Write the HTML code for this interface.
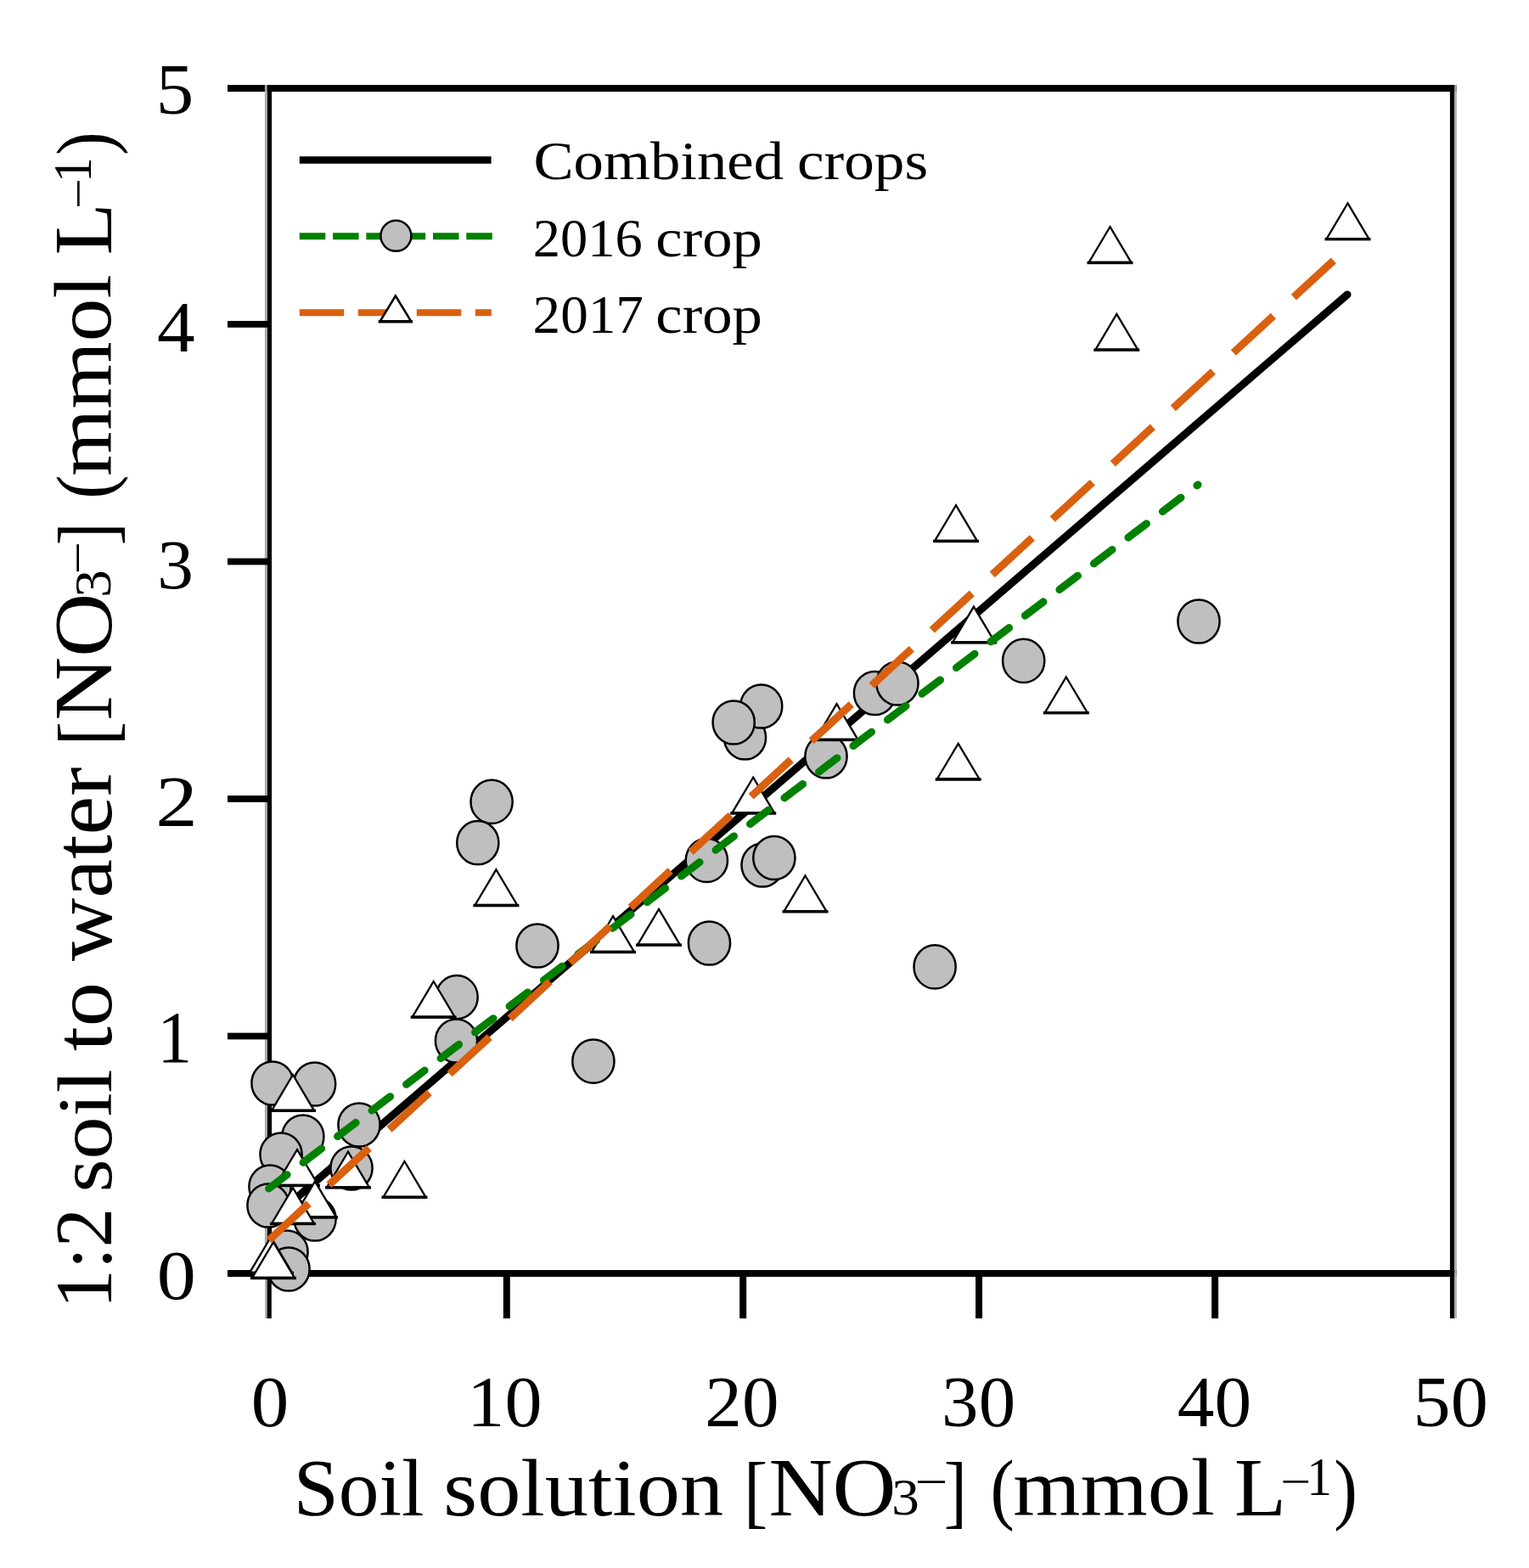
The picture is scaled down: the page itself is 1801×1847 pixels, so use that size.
<!DOCTYPE html>
<html><head><meta charset="utf-8"><title>Soil solution vs 1:2 soil to water nitrate</title>
<style>html,body{margin:0;padding:0;background:#fff;} svg{display:block;} text{font-family:"Liberation Serif","DejaVu Serif",serif;fill:#000;}</style>
</head><body>
<svg xmlns="http://www.w3.org/2000/svg" width="1801" height="1847" viewBox="0 0 1801 1847">
<rect width="1801" height="1847" fill="#fff"/>
<rect x="268" y="100" width="1448" height="8" fill="#000"/>
<rect x="268" y="1496" width="1448" height="8" fill="#000"/>
<rect x="314.6" y="100" width="5.5" height="1404" fill="#000"/>
<rect x="311.9" y="100" width="2.7" height="1404" fill="#aaa"/>
<rect x="1707.9" y="100" width="5.3" height="1404" fill="#000"/>
<rect x="1713.2" y="100" width="2.6" height="1404" fill="#aaa"/>
<rect x="592.8" y="1500" width="8" height="53" fill="#000"/>
<rect x="871.2" y="1500" width="8" height="53" fill="#000"/>
<rect x="1149.1" y="1500" width="8" height="53" fill="#000"/>
<rect x="1427.1" y="1500" width="8" height="53" fill="#000"/>
<rect x="314.4" y="1500" width="5.4" height="53" fill="#000"/>
<rect x="312.2" y="1500" width="2.2" height="53" fill="#aaa"/>
<rect x="1707.9" y="1500" width="5.3" height="53" fill="#000"/>
<rect x="1713.2" y="1500" width="2.6" height="53" fill="#aaa"/>
<rect x="268" y="378.0" width="48" height="7.8" fill="#000"/>
<rect x="268" y="657.6" width="48" height="7.8" fill="#000"/>
<rect x="268" y="937.1" width="48" height="7.8" fill="#000"/>
<rect x="268" y="1216.6" width="48" height="7.8" fill="#000"/>
<line x1="316.6" y1="1439" x2="1587" y2="347" stroke="#000" stroke-width="9" stroke-linecap="round"/>
<ellipse cx="1412" cy="732" rx="24.6" ry="25.6" fill="#bfbfbf" stroke="#000" stroke-width="2.5"/>
<ellipse cx="1205.7" cy="778.4" rx="24.6" ry="25.6" fill="#bfbfbf" stroke="#000" stroke-width="2.5"/>
<ellipse cx="1030.5" cy="816.5" rx="24.6" ry="25.6" fill="#bfbfbf" stroke="#000" stroke-width="2.5"/>
<ellipse cx="1057" cy="805" rx="24.6" ry="25.6" fill="#bfbfbf" stroke="#000" stroke-width="2.5"/>
<ellipse cx="973" cy="891" rx="24.6" ry="25.6" fill="#bfbfbf" stroke="#000" stroke-width="2.5"/>
<ellipse cx="877.5" cy="869" rx="24.6" ry="25.6" fill="#bfbfbf" stroke="#000" stroke-width="2.5"/>
<ellipse cx="896.7" cy="832" rx="24.6" ry="25.6" fill="#bfbfbf" stroke="#000" stroke-width="2.5"/>
<ellipse cx="864.2" cy="851" rx="24.6" ry="25.6" fill="#bfbfbf" stroke="#000" stroke-width="2.5"/>
<ellipse cx="579.1" cy="944.4" rx="24.6" ry="25.6" fill="#bfbfbf" stroke="#000" stroke-width="2.5"/>
<ellipse cx="562.8" cy="992.7" rx="24.6" ry="25.6" fill="#bfbfbf" stroke="#000" stroke-width="2.5"/>
<ellipse cx="832.4" cy="1013.4" rx="24.6" ry="25.6" fill="#bfbfbf" stroke="#000" stroke-width="2.5"/>
<ellipse cx="898.1" cy="1019" rx="24.6" ry="25.6" fill="#bfbfbf" stroke="#000" stroke-width="2.5"/>
<ellipse cx="911.9" cy="1010.5" rx="24.6" ry="25.6" fill="#bfbfbf" stroke="#000" stroke-width="2.5"/>
<ellipse cx="835.5" cy="1111" rx="24.6" ry="25.6" fill="#bfbfbf" stroke="#000" stroke-width="2.5"/>
<ellipse cx="633" cy="1114" rx="24.6" ry="25.6" fill="#bfbfbf" stroke="#000" stroke-width="2.5"/>
<ellipse cx="538.1" cy="1174.6" rx="24.6" ry="25.6" fill="#bfbfbf" stroke="#000" stroke-width="2.5"/>
<ellipse cx="537.5" cy="1226" rx="24.6" ry="25.6" fill="#bfbfbf" stroke="#000" stroke-width="2.5"/>
<ellipse cx="1101.1" cy="1138.9" rx="24.6" ry="25.6" fill="#bfbfbf" stroke="#000" stroke-width="2.5"/>
<ellipse cx="698.9" cy="1250.2" rx="24.6" ry="25.6" fill="#bfbfbf" stroke="#000" stroke-width="2.5"/>
<ellipse cx="321" cy="1276" rx="24.6" ry="25.6" fill="#bfbfbf" stroke="#000" stroke-width="2.5"/>
<ellipse cx="370.6" cy="1277" rx="24.6" ry="25.6" fill="#bfbfbf" stroke="#000" stroke-width="2.5"/>
<ellipse cx="356.8" cy="1339" rx="24.6" ry="25.6" fill="#bfbfbf" stroke="#000" stroke-width="2.5"/>
<ellipse cx="331" cy="1360" rx="24.6" ry="25.6" fill="#bfbfbf" stroke="#000" stroke-width="2.5"/>
<ellipse cx="318" cy="1398" rx="24.6" ry="25.6" fill="#bfbfbf" stroke="#000" stroke-width="2.5"/>
<ellipse cx="316" cy="1420" rx="24.6" ry="25.6" fill="#bfbfbf" stroke="#000" stroke-width="2.5"/>
<ellipse cx="423" cy="1325" rx="24.6" ry="25.6" fill="#bfbfbf" stroke="#000" stroke-width="2.5"/>
<ellipse cx="414" cy="1376" rx="24.6" ry="25.6" fill="#bfbfbf" stroke="#000" stroke-width="2.5"/>
<ellipse cx="371" cy="1436" rx="24.6" ry="25.6" fill="#bfbfbf" stroke="#000" stroke-width="2.5"/>
<ellipse cx="338" cy="1475" rx="24.6" ry="25.6" fill="#bfbfbf" stroke="#000" stroke-width="2.5"/>
<ellipse cx="340" cy="1495" rx="24.6" ry="25.6" fill="#bfbfbf" stroke="#000" stroke-width="2.5"/>
<polygon points="1587.5,239.4 1612.3,281.1 1562.7,281.1" fill="#fff" stroke="#000" stroke-width="2.3" stroke-linejoin="miter"/><rect x="1560.5" y="280.0" width="54.0" height="3.4" fill="#000"/>
<polygon points="1307.5,267.2 1332.3,308.9 1282.7,308.9" fill="#fff" stroke="#000" stroke-width="2.3" stroke-linejoin="miter"/><rect x="1280.5" y="307.8" width="54.0" height="3.4" fill="#000"/>
<polygon points="1315.3,369.9 1340.1,411.6 1290.5,411.6" fill="#fff" stroke="#000" stroke-width="2.3" stroke-linejoin="miter"/><rect x="1288.3" y="410.5" width="54.0" height="3.4" fill="#000"/>
<polygon points="1126.0,595.2 1150.8,636.9 1101.2,636.9" fill="#fff" stroke="#000" stroke-width="2.3" stroke-linejoin="miter"/><rect x="1099.0" y="635.8" width="54.0" height="3.4" fill="#000"/>
<polygon points="1147.0,714.6 1171.8,756.3 1122.2,756.3" fill="#fff" stroke="#000" stroke-width="2.3" stroke-linejoin="miter"/><rect x="1120.0" y="755.2" width="54.0" height="3.4" fill="#000"/>
<polygon points="1255.8,797.5 1280.6,839.1 1231.0,839.1" fill="#fff" stroke="#000" stroke-width="2.3" stroke-linejoin="miter"/><rect x="1228.8" y="838.0" width="54.0" height="3.4" fill="#000"/>
<polygon points="1128.7,875.9 1153.5,917.5 1103.9,917.5" fill="#fff" stroke="#000" stroke-width="2.3" stroke-linejoin="miter"/><rect x="1101.7" y="916.4" width="54.0" height="3.4" fill="#000"/>
<polygon points="985.5,829.2 1010.3,870.9 960.7,870.9" fill="#fff" stroke="#000" stroke-width="2.3" stroke-linejoin="miter"/><rect x="958.5" y="869.8" width="54.0" height="3.4" fill="#000"/>
<polygon points="887.2,915.7 912.0,957.4 862.4,957.4" fill="#fff" stroke="#000" stroke-width="2.3" stroke-linejoin="miter"/><rect x="860.2" y="956.3" width="54.0" height="3.4" fill="#000"/>
<polygon points="948.5,1031.5 973.3,1073.2 923.7,1073.2" fill="#fff" stroke="#000" stroke-width="2.3" stroke-linejoin="miter"/><rect x="921.5" y="1072.1" width="54.0" height="3.4" fill="#000"/>
<polygon points="584.4,1024.3 609.2,1066.0 559.6,1066.0" fill="#fff" stroke="#000" stroke-width="2.3" stroke-linejoin="miter"/><rect x="557.4" y="1064.9" width="54.0" height="3.4" fill="#000"/>
<polygon points="722.0,1079.2 746.8,1120.9 697.2,1120.9" fill="#fff" stroke="#000" stroke-width="2.3" stroke-linejoin="miter"/><rect x="695.0" y="1119.8" width="54.0" height="3.4" fill="#000"/>
<polygon points="776.0,1070.9 800.8,1112.6 751.2,1112.6" fill="#fff" stroke="#000" stroke-width="2.3" stroke-linejoin="miter"/><rect x="749.0" y="1111.5" width="54.0" height="3.4" fill="#000"/>
<polygon points="510.7,1156.0 535.5,1197.7 485.9,1197.7" fill="#fff" stroke="#000" stroke-width="2.3" stroke-linejoin="miter"/><rect x="483.7" y="1196.5" width="54.0" height="3.4" fill="#000"/>
<polygon points="345.0,1266.0 369.8,1307.8 320.2,1307.8" fill="#fff" stroke="#000" stroke-width="2.3" stroke-linejoin="miter"/><rect x="318.0" y="1306.6" width="54.0" height="3.4" fill="#000"/>
<polygon points="410.0,1356.7 434.8,1398.4 385.2,1398.4" fill="#fff" stroke="#000" stroke-width="2.3" stroke-linejoin="miter"/><rect x="383.0" y="1397.2" width="54.0" height="3.4" fill="#000"/>
<polygon points="476.5,1368.0 501.3,1409.8 451.7,1409.8" fill="#fff" stroke="#000" stroke-width="2.3" stroke-linejoin="miter"/><rect x="449.5" y="1408.6" width="54.0" height="3.4" fill="#000"/>
<polygon points="350.0,1354.2 374.8,1395.9 325.2,1395.9" fill="#fff" stroke="#000" stroke-width="2.3" stroke-linejoin="miter"/><rect x="323.0" y="1394.8" width="54.0" height="3.4" fill="#000"/>
<polygon points="371.0,1391.7 395.8,1433.4 346.2,1433.4" fill="#fff" stroke="#000" stroke-width="2.3" stroke-linejoin="miter"/><rect x="344.0" y="1432.3" width="54.0" height="3.4" fill="#000"/>
<polygon points="345.0,1399.2 369.8,1440.9 320.2,1440.9" fill="#fff" stroke="#000" stroke-width="2.3" stroke-linejoin="miter"/><rect x="318.0" y="1439.8" width="54.0" height="3.4" fill="#000"/>
<polygon points="319.0,1457.2 343.8,1498.9 294.2,1498.9" fill="#fff" stroke="#000" stroke-width="2.3" stroke-linejoin="miter"/><rect x="292.0" y="1497.8" width="54.0" height="3.4" fill="#000"/>
<polygon points="322.0,1463.2 346.8,1504.9 297.2,1504.9" fill="#fff" stroke="#000" stroke-width="2.3" stroke-linejoin="miter"/><rect x="295.0" y="1503.8" width="54.0" height="3.4" fill="#000"/>
<line x1="316.6" y1="1400" x2="1411" y2="571" stroke="#008000" stroke-width="9" stroke-linecap="round" stroke-dasharray="27 23.8"/>
<line x1="316.6" y1="1461" x2="1587" y2="292" stroke="#d9600f" stroke-width="9" stroke-linecap="butt" stroke-dasharray="64 32.5"/>
<line x1="352.8" y1="188.4" x2="578.6" y2="188.4" stroke="#000" stroke-width="8.5"/>
<line x1="352.8" y1="278.2" x2="579.8" y2="278.2" stroke="#008000" stroke-width="8" stroke-dasharray="30.5 8.8"/>
<circle cx="466.4" cy="277.8" r="18" fill="#bfbfbf" stroke="#000" stroke-width="2.5"/>
<line x1="352.8" y1="368.3" x2="578.8" y2="368.3" stroke="#d9600f" stroke-width="8" stroke-dasharray="52.4 16.6"/>
<polygon points="465.9,348.5 484.2,378.6 447.6,378.6" fill="#fff" stroke="#000" stroke-width="2.5"/>
<rect x="445.8" y="377" width="40.2" height="3.5" fill="#000"/>
<g>
<text transform="matrix(1.0472 0 0 0.9879 295.76 1680.11)" font-size="85">0</text>
<text transform="matrix(1.0373 0 0 0.9879 550.34 1680.11)" font-size="85">10</text>
<text transform="matrix(1.0256 0 0 0.9879 830.30 1680.11)" font-size="85">20</text>
<text transform="matrix(1.0244 0 0 0.9879 1109.10 1680.11)" font-size="85">30</text>
<text transform="matrix(1.0275 0 0 0.9879 1386.85 1680.11)" font-size="85">40</text>
<text transform="matrix(1.0390 0 0 0.9879 1664.61 1680.11)" font-size="85">50</text>
<text transform="matrix(1.0833 0 0 0.9655 184.75 1529.53)" font-size="85">0</text>
<text transform="matrix(0.9613 0 0 1.0268 185.27 1250.60)" font-size="85">1</text>
<text transform="matrix(1.1647 0 0 1.0000 183.34 973.00)" font-size="85">2</text>
<text transform="matrix(1.0029 0 0 0.9759 185.29 692.72)" font-size="85">3</text>
<text transform="matrix(1.0513 0 0 1.0054 184.90 414.00)" font-size="85">4</text>
<text transform="matrix(1.0471 0 0 1.0000 183.76 134.00)" font-size="85">5</text>
<text transform="matrix(1.1223 0 0 1.0000 628.46 210.50)" font-size="63">Combined</text>
<text transform="matrix(1.1303 0 0 1.0000 938.94 210.50)" font-size="63">crops</text>
<text transform="matrix(1.0240 0 0 1.0000 627.63 301.80)" font-size="63">2016</text>
<text transform="matrix(1.1222 0 0 1.0000 772.36 301.80)" font-size="63">crop</text>
<text transform="matrix(1.0347 0 0 1.0000 627.60 391.50)" font-size="63">2017</text>
<text transform="matrix(1.1222 0 0 1.0000 772.36 391.50)" font-size="63">crop</text>
<text transform="matrix(1.0048 0 0 1.0015 345.67 1784.60)" font-size="95">Soil</text>
<text transform="matrix(1.0777 0 0 1.0015 522.29 1784.60)" font-size="95">solution</text>
<text transform="matrix(0.8952 0 0 0.9975 875.93 1788.03)" font-size="95">[</text>
<text transform="matrix(1.0938 0 0 1.0154 905.52 1784.98)" font-size="95">NO</text>
<text transform="matrix(1.0880 0 0 1.0150 1050.34 1783.68)" font-size="60">3</text>
<text transform="matrix(1.1714 0 0 0.9333 1077.29 1763.70)" font-size="59">−</text>
<text transform="matrix(0.8591 0 0 0.9975 1111.82 1788.03)" font-size="95">]</text>
<text transform="matrix(0.8960 0 0 0.9756 1166.42 1784.19)" font-size="95">(</text>
<text transform="matrix(1.0729 0 0 0.9926 1193.25 1784.01)" font-size="95">mmol</text>
<text transform="matrix(1.0510 0 0 1.0222 1453.95 1784.60)" font-size="95">L</text>
<text transform="matrix(1.0821 0 0 0.9000 1508.45 1763.10)" font-size="59">−</text>
<text transform="matrix(0.9909 0 0 1.0462 1539.25 1760.60)" font-size="60">1</text>
<text transform="matrix(0.8720 0 0 0.9756 1571.28 1784.19)" font-size="95">)</text>
<text transform="matrix(0 -0.9769 1.0000 0 130.80 1541.51)" font-size="95">1:2</text>
<text transform="matrix(0 -1.0565 0.9647 0 130.64 1404.43)" font-size="95">soil</text>
<text transform="matrix(0 -1.1014 1.0255 0 130.57 1238.20)" font-size="95">to</text>
<text transform="matrix(0 -1.0829 1.0364 0 131.16 1132.00)" font-size="95">water</text>
<text transform="matrix(0 -0.8952 0.9975 0 134.43 878.27)" font-size="95">[</text>
<text transform="matrix(0 -1.0938 1.0154 0 131.38 848.68)" font-size="95">NO</text>
<text transform="matrix(0 -1.0880 1.0150 0 130.09 703.86)" font-size="60">3</text>
<text transform="matrix(0 -1.1714 0.9333 0 110.10 676.91)" font-size="59">−</text>
<text transform="matrix(0 -0.8591 0.9975 0 134.43 642.38)" font-size="95">]</text>
<text transform="matrix(0 -0.8960 0.9756 0 130.59 587.78)" font-size="95">(</text>
<text transform="matrix(0 -1.0729 0.9926 0 130.41 560.95)" font-size="95">mmol</text>
<text transform="matrix(0 -1.0510 1.0222 0 131.00 300.25)" font-size="95">L</text>
<text transform="matrix(0 -1.0821 0.9000 0 109.50 245.75)" font-size="59">−</text>
<text transform="matrix(0 -0.9909 1.0462 0 107.00 214.95)" font-size="60">1</text>
<text transform="matrix(0 -0.8720 0.9756 0 130.59 182.92)" font-size="95">)</text>
</g>
</svg>
</body></html>
